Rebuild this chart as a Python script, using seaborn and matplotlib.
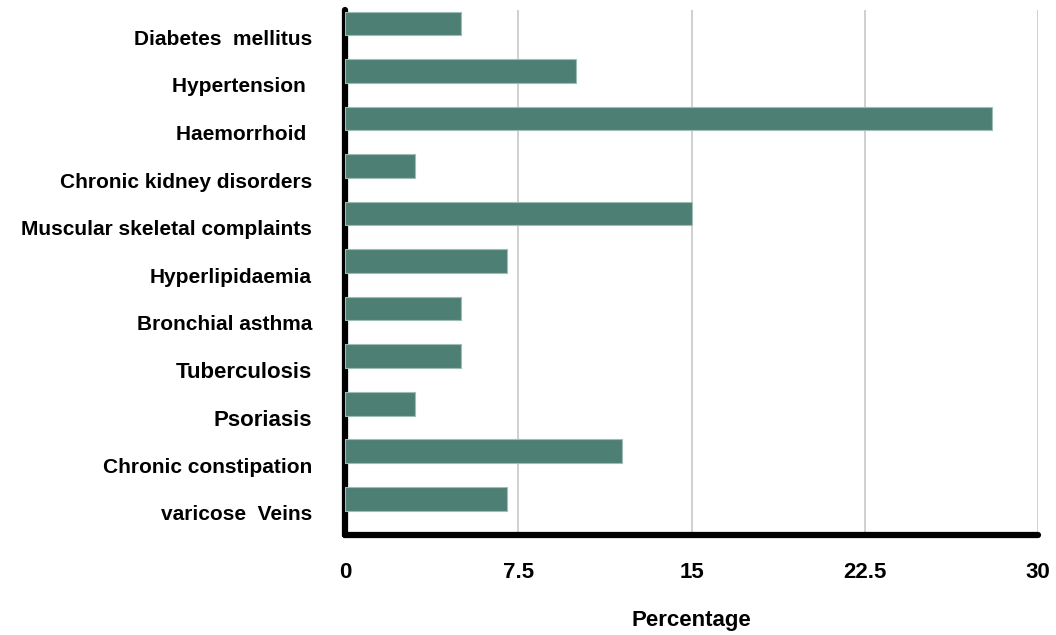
import pandas as pd
import matplotlib.pyplot as plt
import matplotlib.transforms as mtransforms
import seaborn as sns

conditions = ["Diabetes  mellitus", "Hypertension ", "Haemorrhoid ", "Chronic kidney disorders",
              "Muscular skeletal complaints", "Hyperlipidaemia", "Bronchial asthma",
              "Tuberculosis", "Psoriasis", "Chronic constipation", "varicose  Veins"]
percentage = [5, 10, 28, 3, 15, 7, 5, 5, 3, 12, 7]
x_ticks = [0, 7.5, 15, 22.5, 30]
x_tick_labels = ["0", "7.5", "15", "22.5", "30"]

df = pd.DataFrame({"Condition": conditions, "Percentage": percentage})

sns.set_style("white")
plt.rcParams['font.family'] = ['Liberation Sans Narrow', 'Liberation Sans', 'DejaVu Sans']
plt.rcParams['text.color'] = 'black'
plt.rcParams['xtick.color'] = 'black'
plt.rcParams['ytick.color'] = 'black'
plt.rcParams['axes.labelcolor'] = 'black'

fig = plt.figure(figsize=(10.56, 6.35), dpi=100)
ax = fig.add_axes([0.327, 0.157, 0.656, 0.827])

sns.barplot(data=df, x="Percentage", y="Condition", color="#4E7F75", width=0.5,
            saturation=1, ax=ax, zorder=3, edgecolor="#9DBDB5", linewidth=0.8)

ax.set_xlim(0, 30)
ax.set_ylim(10.77, -0.28)
ax.set_xticks(x_ticks)
ax.set_xticklabels(x_tick_labels, fontsize=16, fontweight="bold")
ax.xaxis.grid(True, color="#C8C8C8", linewidth=1.2, zorder=0)
ax.yaxis.grid(False)
ax.set_ylabel("")
ax.set_xlabel("Percentage", fontsize=16, fontweight="bold", labelpad=20)
ax.tick_params(axis="x", length=0, pad=19)
ax.tick_params(axis="y", length=0, pad=24)

# labels sit a bit below the bar centres in the original
shift = mtransforms.ScaledTranslation(0, -0.14, fig.dpi_scale_trans)
for lab in ax.get_yticklabels():
    lab.set_fontsize(15)
    lab.set_fontweight("bold")
    lab.set_transform(lab.get_transform() + shift)
    if lab.get_text() in ("Tuberculosis", "Psoriasis"):
        lab.set_fontsize(16)

for side in ["top", "right"]:
    ax.spines[side].set_visible(False)
for side in ["left", "bottom"]:
    ax.spines[side].set_color("black")
    ax.spines[side].set_linewidth(4.5)
    ax.spines[side].set_capstyle("round")

plt.savefig("out.png", dpi=100)
